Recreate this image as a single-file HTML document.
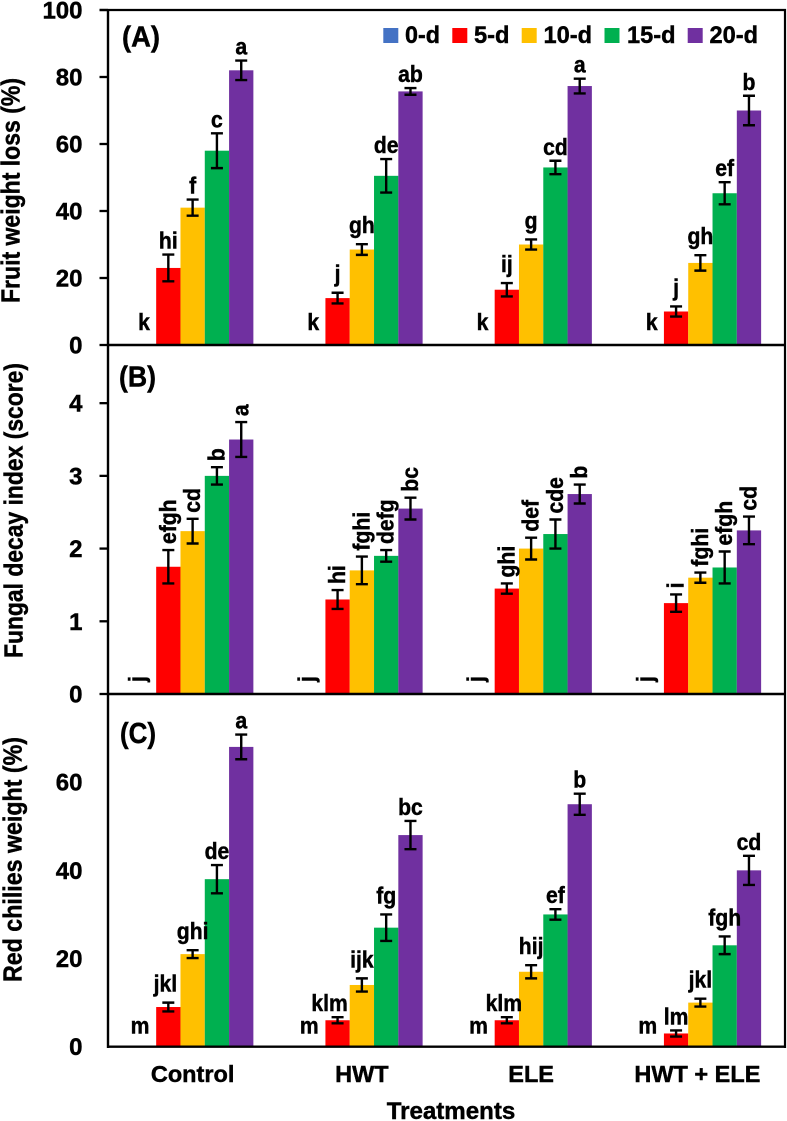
<!DOCTYPE html>
<html lang="en">
<head>
<meta charset="utf-8">
<title>Fruit weight loss, fungal decay index and red chilies weight</title>
<style>
html,body{margin:0;padding:0;background:#fff;}
svg{display:block;}
text{font-family:"Liberation Sans",Arial,sans-serif;font-weight:bold;fill:#000;stroke:#000;stroke-width:0.45px;}
</style>
</head>
<body>
<svg id="chart" width="787" height="1121" viewBox="0 0 787 1121" xmlns="http://www.w3.org/2000/svg">
  <rect x="0" y="0" width="787" height="1121" fill="#fff"/>
  <g id="plots"></g>
  <text transform="translate(19.5,303) rotate(-90)" font-size="26" textLength="225" lengthAdjust="spacingAndGlyphs">Fruit weight loss (%)</text>
  <text transform="translate(22.5,658) rotate(-90)" font-size="26" textLength="295" lengthAdjust="spacingAndGlyphs">Fungal decay index (score)</text>
  <text transform="translate(21.5,982) rotate(-90)" font-size="26" textLength="245" lengthAdjust="spacingAndGlyphs">Red chilies weight (%)</text>
  <text x="122" y="46.5" font-size="29" textLength="38" lengthAdjust="spacingAndGlyphs">(A)</text>
  <text x="119" y="386.5" font-size="29" textLength="37" lengthAdjust="spacingAndGlyphs">(B)</text>
  <text x="120" y="743" font-size="29" textLength="36" lengthAdjust="spacingAndGlyphs">(C)</text>
  <g>
    <g>
      <rect x="383.3" y="28" width="15" height="15" fill="#4472C4"/>
      <text x="405" y="42.8" font-size="24.5" textLength="35" lengthAdjust="spacingAndGlyphs">0-d</text>
    </g>
    <g>
      <rect x="452.3" y="28" width="15" height="15" fill="#FF0000"/>
      <text x="474" y="42.8" font-size="24.5" textLength="35.5" lengthAdjust="spacingAndGlyphs">5-d</text>
    </g>
    <g>
      <rect x="521.7" y="28" width="15" height="15" fill="#FFC000"/>
      <text x="543.5" y="42.8" font-size="24.5" textLength="48.5" lengthAdjust="spacingAndGlyphs">10-d</text>
    </g>
    <g>
      <rect x="604.5" y="28" width="15" height="15" fill="#00B050"/>
      <text x="627" y="42.8" font-size="24.5" textLength="48.5" lengthAdjust="spacingAndGlyphs">15-d</text>
    </g>
    <g>
      <rect x="687.7" y="28" width="15" height="15" fill="#7030A0"/>
      <text x="709.5" y="42.8" font-size="24.5" textLength="48.5" lengthAdjust="spacingAndGlyphs">20-d</text>
    </g>
  </g>
  <text x="451" y="1119" font-size="24.5" text-anchor="middle" textLength="128.6" lengthAdjust="spacingAndGlyphs">Treatments</text>
</svg>
<script>
const categories = ['Control', 'HWT', 'ELE', 'HWT + ELE'];
const seriesNames = ['0-d', '5-d', '10-d', '15-d', '20-d'];

const lossTicks = [0, 20, 40, 60, 80, 100];
const lossMeans = [
  [0, 23, 41, 58, 82],
  [0, 14, 28.5, 50.5, 75.7],
  [0, 16.5, 30, 53, 77.3],
  [0, 10, 24.5, 45.3, 70]
];
const lossErrors = [
  [0, 4, 2.4, 5.2, 2.9],
  [0, 1.6, 1.6, 5, 1],
  [0, 2, 1.5, 2, 2.2],
  [0, 1.5, 2.3, 3.3, 4.4]
];
const lossLetters = [
  ['k', 'hi', 'f', 'c', 'a'],
  ['k', 'j', 'gh', 'de', 'ab'],
  ['k', 'ij', 'g', 'cd', 'a'],
  ['k', 'j', 'gh', 'ef', 'b']
];

const decayTicks = [0, 1, 2, 3, 4];
const decayMeans = [
  [0, 1.75, 2.24, 3, 3.5],
  [0, 1.3, 1.7, 1.9, 2.55],
  [0, 1.45, 2, 2.2, 2.75],
  [0, 1.25, 1.6, 1.74, 2.25]
];
const decayErrors = [
  [0, 0.23, 0.17, 0.12, 0.24],
  [0, 0.13, 0.19, 0.08, 0.15],
  [0, 0.07, 0.15, 0.2, 0.13],
  [0, 0.12, 0.07, 0.22, 0.19]
];
const decayLetters = [
  ['j', 'efgh', 'cd', 'b', 'a'],
  ['j', 'hi', 'fghi', 'defg', 'bc'],
  ['j', 'ghi', 'def', 'cde', 'b'],
  ['j', 'i', 'fghi', 'efgh', 'cd']
];

const weightTicks = [0, 20, 40, 60];
const weightMeans = [
  [0, 9, 21, 38, 68],
  [0, 6, 14, 27, 48],
  [0, 6, 17, 30, 55],
  [0, 3, 10, 23, 40]
];
const weightErrors = [
  [0, 1, 0.9, 3.2, 2.8],
  [0, 0.7, 1.5, 3, 3.2],
  [0, 0.7, 1.5, 1.2, 2.4],
  [0, 0.7, 0.9, 2, 3.3]
];
const weightLetters = [
  ['m', 'jkl', 'ghi', 'de', 'a'],
  ['m', 'klm', 'ijk', 'fg', 'bc'],
  ['m', 'klm', 'hij', 'ef', 'b'],
  ['m', 'lm', 'jkl', 'fgh', 'cd']
];

const seriesColors = ['#4472C4', '#FF0000', '#FFC000', '#00B050', '#7030A0'];

const NS = 'http://www.w3.org/2000/svg';
const plots = document.getElementById('plots');
const plotLeft = 108;
const plotRight = 785;
const barWidth = 24.3;

function make(parent, tag, attrs, content) {
  const el = document.createElementNS(NS, tag);
  for (const key in attrs) {
    el.setAttribute(key, attrs[key]);
  }
  if (content !== undefined) {
    el.textContent = content;
  }
  parent.appendChild(el);
  return el;
}

function groupCenter(g) {
  return plotLeft + (plotRight - plotLeft) / categories.length * (g + 0.5);
}

function barCenter(g, s) {
  return groupCenter(g) + (s - (seriesNames.length - 1) / 2) * barWidth;
}

function yScale(top, bottom, max) {
  return function (v) {
    return bottom - (bottom - top) * v / max;
  };
}

function letterGap(letter) {
  return /[gj]/.test(letter) ? 11 : 6;
}

function drawPanel(panel) {
  const y = panel.y;
  const group = make(plots, 'g', {});
  
  

  panel.means.forEach(function (row, g) {
    row.forEach(function (value, s) {
      const cx = barCenter(g, s);
      const bar = make(group, 'rect', {
        x: cx - barWidth / 2,
        y: y(value),
        width: barWidth,
        height: y(0) - y(value),
        fill: seriesColors[s]
      });
      
      
    });
  });

  panel.means.forEach(function (row, g) {
    row.forEach(function (value, s) {
      const err = panel.errors[g][s];
      if (err <= 0) {
        return;
      }
      const cx = barCenter(g, s);
      const hi = y(value + err);
      const lo = y(value - err);
      const bars = make(group, 'path', {
        d: 'M' + cx + ' ' + hi + 'V' + lo + 'M' + (cx - 6) + ' ' + hi + 'H' + (cx + 6) + 'M' + (cx - 6) + ' ' + lo + 'H' + (cx + 6),
        fill: 'none',
        stroke: '#000',
        'stroke-width': 2.4
      });
      
      
    });
  });

  panel.letters.forEach(function (row, g) {
    row.forEach(function (letter, s) {
      const value = panel.means[g][s];
      const top = y(value + panel.errors[g][s]);
      const cx = barCenter(g, s);
      let node;
      if (panel.rotated) {
        const bx = s === 0 ? cx + 1 : cx + 7.5;
        const by = s === 0 ? y(0) - 12 : top - 6;
        node = make(group, 'text', {
          transform: 'translate(' + bx + ',' + by + ') rotate(-90) scale(0.92,1)',
          'font-size': 23
        }, letter);
      } else {
        let shift = 0;
        if (panel.id === 'c' && s === 0) {
          shift = -4;
        }
        if (panel.id === 'c' && s === 1 && value >= 6) {
          shift = g === 1 ? -8 : -3;
        }
        const base = s === 0 ? y(0) - panel.zeroGap : top - letterGap(letter);
        node = make(group, 'text', {
          transform: 'translate(' + (cx + shift) + ',' + base + ') scale(0.92,1)',
          'font-size': 23,
          'text-anchor': 'middle'
        }, letter);
      }
      
      
    });
  });

  panel.ticks.forEach(function (tick) {
    const ty = y(tick);
    const label = make(group, 'text', {
      x: 82.5,
      y: ty + 8.5,
      'font-size': 24,
      'text-anchor': 'end'
    }, String(tick));
    
    
    if (panel.tickMarks) {
      const mark = make(group, 'line', {
        x1: 99.5,
        x2: plotLeft,
        y1: ty,
        y2: ty,
        stroke: '#000',
        'stroke-width': 2.3
      });
      
      
    }
  });

  const baseline = make(group, 'line', {
    x1: plotLeft,
    x2: plotRight + 1,
    y1: y(0),
    y2: y(0),
    stroke: '#000',
    'stroke-width': 2.4
  });
  
  
}

drawPanel({
  id: 'a',
  y: yScale(10, 345, 100),
  means: lossMeans,
  errors: lossErrors,
  letters: lossLetters,
  ticks: lossTicks,
  tickMarks: true,
  rotated: false,
  zeroGap: 15
});
drawPanel({
  id: 'b',
  y: yScale(345, 694, 4.8),
  means: decayMeans,
  errors: decayErrors,
  letters: decayLetters,
  ticks: decayTicks,
  tickMarks: true,
  rotated: true,
  zeroGap: 12
});
drawPanel({
  id: 'c',
  y: yScale(694, 1046.7, 80),
  means: weightMeans,
  errors: weightErrors,
  letters: weightLetters,
  ticks: weightTicks,
  tickMarks: false,
  rotated: false,
  zeroGap: 13
});

const leftAxis = make(plots, 'line', {
  x1: plotLeft,
  x2: plotLeft,
  y1: 9,
  y2: 1048,
  stroke: '#000',
  'stroke-width': 2.4
});



const rightBorder = make(plots, 'line', {
  x1: plotRight,
  x2: plotRight,
  y1: 9,
  y2: 1048,
  stroke: '#000',
  'stroke-width': 2.2
});



const topBorder = make(plots, 'line', {
  x1: 99.5,
  x2: plotRight + 1,
  y1: 10,
  y2: 10,
  stroke: '#000',
  'stroke-width': 2.3
});



categories.forEach(function (name, g) {
  const label = make(plots, 'text', {
    x: groupCenter(g) - (g === 3 ? 3 : 0),
    y: 1082,
    'font-size': 23.5,
    'text-anchor': 'middle'
  }, name);
  
  
});
</script>
</body>
</html>
